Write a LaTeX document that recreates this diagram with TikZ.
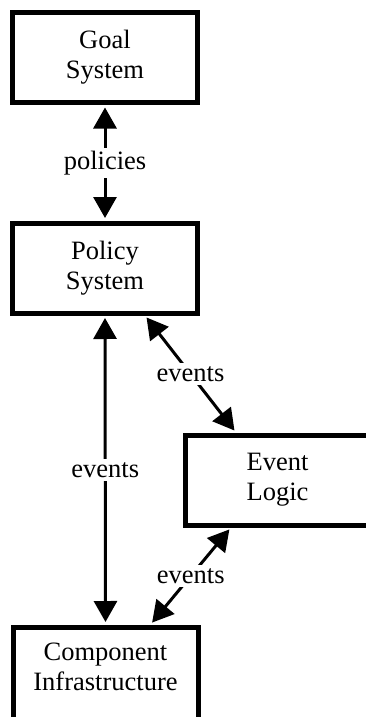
\documentclass[tikz,border=0pt]{standalone}
\usepackage{fontspec}
\setmainfont{Liberation Serif}
\usepackage{tikz}
\usetikzlibrary{arrows.meta,calc}
\tikzset{
  sysbox/.style={draw=black, line width=5pt, align=center, fill=white, inner sep=0pt, minimum width=185pt, minimum height=90pt},
  arrow/.style={{Triangle[length=21pt,width=23pt]}-{Triangle[length=21pt,width=23pt]}, line width=3pt, shorten <=2.5pt, shorten >=2.5pt},
  flowlabel/.style={fill=white, inner sep=3pt}
}

\begin{document}
\begin{tikzpicture}[x=1pt, y=-1pt, font=\fontsize{26.5}{30}\selectfont]
  \useasboundingbox (0,0) rectangle (365,717);
  \node[sysbox] (goal) at (105,57.5) {Goal\\System};
  \node[sysbox] (policy) at (105,268) {Policy\\System};
  \node[sysbox, minimum width=184pt] (evt) at (277.5,480) {Event\\Logic};
  % bottom edge runs off the page, so the text sits higher than the middle
  \node[sysbox, minimum height=93pt, text depth=14pt] (comp) at (105.5,673.5) {Component\\Infrastructure};

  \draw[arrow] (goal.south) -- node[flowlabel] {policies} (policy.north);
  \draw[arrow] (policy.south) -- node[flowlabel] {events} (comp.north);
  \draw[arrow] ($(policy.south)+(40,0)$) -- node[flowlabel] {events} ($(evt.north west)+(53,0)$);
  \draw[arrow] ($(evt.south west)+(48,0)$) -- node[flowlabel] {events} ($(comp.north)+(45,0)$);
\end{tikzpicture}
\end{document}
